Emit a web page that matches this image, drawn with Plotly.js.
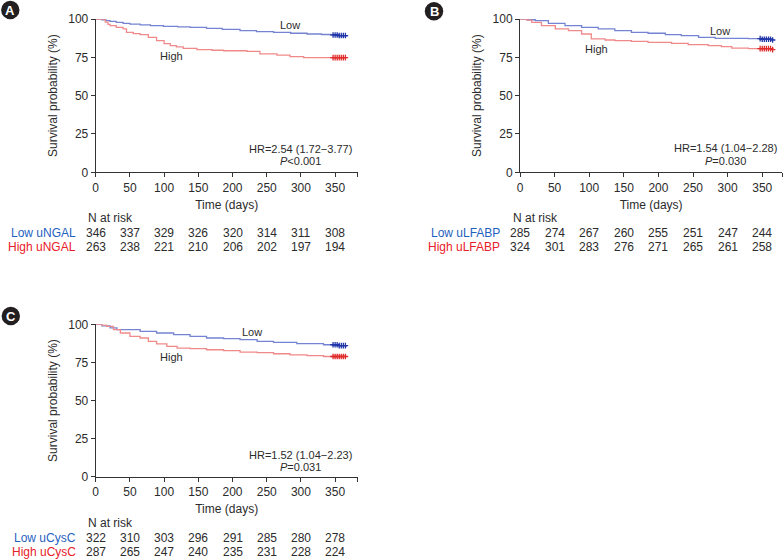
<!DOCTYPE html>
<html><head><meta charset="utf-8">
<script src="https://cdn.plot.ly/plotly-3.0.1.min.js"></script>
<style>html,body{margin:0;padding:0;background:#fff;}#chart{width:784px;height:559px;}</style>
</head><body><div id="chart"></div>
<script>
// ---- data ----
const riskTimes = [0, 50, 100, 150, 200, 250, 300, 350];
const xTicks = [0, 50, 100, 150, 200, 250, 300, 350];
const yTicks = [0, 25, 50, 75, 100];

// Panel A (uNGAL)
const aLowT  = [0, 9, 15, 21, 30, 40, 50, 65, 80, 99, 120, 138, 162, 185, 211, 235, 260, 285, 309, 330, 343, 355, 367];
const aLowS  = [100, 99.5, 99, 98.5, 97.8, 97.2, 96.7, 96.2, 95.7, 95.2, 94.9, 94.6, 93.9, 93.2, 92.4, 91.8, 91.3, 90.7, 90.2, 89.9, 89.6, 89.2, 88.5];
const aHighT = [0, 14, 18, 21, 30, 40, 45, 55, 65, 77, 89, 100, 109, 118, 128, 148, 170, 187, 221, 240, 265, 284, 304, 367];
const aHighS = [100, 98, 96.5, 95.7, 94.5, 93.5, 91.3, 90.5, 89.8, 88, 85.9, 84, 82.6, 81.8, 80.9, 80, 79.6, 79.3, 78.9, 77.2, 76.5, 75.4, 74.8, 74.5];
const aLowRisk  = [346, 337, 329, 326, 320, 314, 311, 308];
const aHighRisk = [263, 238, 221, 210, 206, 202, 197, 194];

// Panel B (uLFABP)
const bLowT  = [0, 10, 22, 41, 65, 89, 113, 137, 161, 185, 210, 233, 258, 282, 330, 350, 364];
const bLowS  = [100, 99.5, 98.9, 97.2, 95.7, 94.6, 93.5, 92.4, 91.3, 90.7, 89.8, 89.1, 88, 87.4, 87.2, 86.8, 86.3];
const bHighT = [0, 10, 17, 31, 51, 70, 89, 103, 123, 137, 161, 185, 219, 243, 272, 291, 306, 330, 365];
const bHighS = [100, 99.3, 97.8, 95.7, 93.5, 92.4, 90.2, 87, 86.3, 85.9, 85.4, 84.8, 84.1, 83.3, 82.6, 82, 81, 80.7, 80];
const bLowRisk  = [285, 274, 267, 260, 255, 251, 247, 244];
const bHighRisk = [324, 301, 283, 276, 271, 265, 261, 258];

// Panel C (uCysC)
const cLowT  = [0, 9, 21, 31, 65, 89, 114, 138, 162, 187, 211, 236, 260, 294, 333, 355, 366];
const cLowS  = [100, 99, 97.6, 96.5, 95.4, 94.3, 93.2, 92.1, 91, 90.6, 89.9, 88.8, 88.2, 87.3, 86.6, 86, 85];
const cHighT = [0, 9, 16, 26, 36, 50, 65, 77, 89, 104, 119, 138, 162, 187, 211, 236, 260, 284, 309, 333, 366];
const cHighS = [100, 99.5, 98.7, 96.5, 94.3, 92.1, 91, 88.8, 87.1, 85.5, 84.4, 84, 83.3, 82.7, 81.8, 81.4, 80.7, 80, 79.4, 78.9, 78.5];
const cLowRisk  = [322, 310, 303, 296, 291, 285, 280, 278];
const cHighRisk = [287, 265, 247, 240, 235, 231, 228, 224];

const censorTimes = [347, 350, 353, 356, 359, 362, 365];

const panelLetters = ['A', 'B', 'C'];
const groupNames = ['uNGAL', 'uLFABP', 'uCysC'];
const hrTexts = ['HR=2.54 (1.72\u22123.77)', 'HR=1.54 (1.04\u22122.28)', 'HR=1.52 (1.04\u22122.23)'];
const pTexts = ['<i>P</i>&lt;0.001', '<i>P</i>=0.030', '<i>P</i>=0.031'];

// ---- styling ----
const W = 784, H = 559;
const FONT = 'Liberation Sans, Arial, Helvetica, sans-serif';
const TXT = '#2b2b2b';
const lowLine = '#7484d2', highLine = '#f08a8a';
const lowMark = '#1f35a8', highMark = '#e02a2a';
const lowLab = '#1f5fbf', highLab = '#e8202a';

const px = v => v / W;
const py = v => 1 - v / H;

// panel geometry in pixels
const panels = [
  {x0: 95.7, x1: 357.7, xmax: 383, yTop: 19, yBot: 172.3, ax: '', low: [aLowT, aLowS], high: [aHighT, aHighS], lr: aLowRisk, hr: aHighRisk,
   nY: 217.7, lowY: 232.7, highY: 246.7, labR: 77.7, nX: 85.7,
   circ: [10.3, 10], lowTxt: [290, 25], highTxt: [171, 55.7], hrX: 300, hrY: [149, 161.5]},
  {x0: 520, x1: 782.3, xmax: 379, yTop: 19, yBot: 172.3, ax: '2', low: [bLowT, bLowS], high: [bHighT, bHighS], lr: bLowRisk, hr: bHighRisk,
   nY: 217.7, lowY: 232.7, highY: 246.7, labR: 502, nX: 510.7,
   circ: [434, 11.3], lowTxt: [720, 31.3], highTxt: [596.7, 49.3], hrX: 725.5, hrY: [148, 161]},
  {x0: 95.7, x1: 357.7, xmax: 383, yTop: 324.3, yBot: 476.8, ax: '3', low: [cLowT, cLowS], high: [cHighT, cHighS], lr: cLowRisk, hr: cHighRisk,
   nY: 522.7, lowY: 538.3, highY: 551.7, labR: 77.7, nX: 85.7,
   circ: [10.8, 316], lowTxt: [251.7, 331.7], highTxt: [171.7, 357.3], hrX: 300, hrY: [455, 467]}
];

function stepAt(t, s, x) {
  let v = s[0];
  for (let i = 0; i < t.length; i++) { if (t[i] <= x) v = s[i]; }
  return v;
}

const data = [], annotations = [], shapes = [];
const layout = {
  width: W, height: H, margin: {l: 0, r: 0, t: 0, b: 0},
  paper_bgcolor: '#fff', plot_bgcolor: 'rgba(0,0,0,0)',
  showlegend: false, font: {family: FONT, size: 12, color: TXT}
};

panels.forEach((p, k) => {
  const xa = 'x' + p.ax, ya = 'y' + p.ax;
  [[p.low, lowLine, lowMark, 'Low'], [p.high, highLine, highMark, 'High']].forEach(([c, lc, mc, nm]) => {
    data.push({type: 'scatter', mode: 'lines', x: c[0], y: c[1], xaxis: xa, yaxis: ya,
      line: {shape: 'hv', color: lc, width: 1.3}, name: nm + ' ' + groupNames[k], hoverinfo: 'x+y'});
    data.push({type: 'scatter', mode: 'markers', x: censorTimes, y: censorTimes.map(t => stepAt(c[0], c[1], t)),
      xaxis: xa, yaxis: ya, marker: {symbol: 'cross-thin-open', size: 4, line: {color: mc, width: 1.3}, color: mc},
      name: nm + ' censored', hoverinfo: 'skip'});
  });
  const xk = 'xaxis' + p.ax, yk = 'yaxis' + p.ax;
  layout[xk] = {
    domain: [px(p.x0), px(p.x1)], range: [0, p.xmax], anchor: ya,
    tickvals: xTicks.concat([p.xmax]), ticktext: xTicks.map(String).concat(['']),
    ticks: 'outside', ticklen: 4, tickcolor: '#333', tickwidth: 1,
    showline: true, linecolor: '#333', linewidth: 1, showgrid: false, zeroline: false,
    tickfont: {family: FONT, size: 12, color: TXT},
    title: {text: 'Time (days)', font: {family: FONT, size: 12, color: TXT}, standoff: 6}
  };
  layout[yk] = {
    domain: [py(p.yBot), py(p.yTop)], range: [0, 100], anchor: xa,
    tickvals: yTicks, ticks: 'outside', ticklen: 4, tickcolor: '#333', tickwidth: 1,
    showline: true, linecolor: '#333', linewidth: 1, showgrid: false, zeroline: false,
    tickfont: {family: FONT, size: 12, color: TXT},
    title: {text: 'Survival probability (%)', font: {family: FONT, size: 12, color: TXT}, standoff: 8}
  };
  // risk table
  annotations.push({text: 'N at risk', xref: 'paper', yref: 'paper', x: px(p.nX), y: py(p.nY), xanchor: 'left', yanchor: 'middle', showarrow: false, font: {size: 12, color: TXT}});
  annotations.push({text: 'Low ' + groupNames[k], xref: 'paper', yref: 'paper', x: px(p.labR), y: py(p.lowY), xanchor: 'right', yanchor: 'middle', showarrow: false, font: {size: 12, color: lowLab}});
  annotations.push({text: 'High ' + groupNames[k], xref: 'paper', yref: 'paper', x: px(p.labR), y: py(p.highY), xanchor: 'right', yanchor: 'middle', showarrow: false, font: {size: 12, color: highLab}});
  riskTimes.forEach((t, i) => {
    annotations.push({text: String(p.lr[i]), xref: xa, yref: 'paper', x: t, y: py(p.lowY), xanchor: 'center', yanchor: 'middle', showarrow: false, font: {size: 12, color: TXT}});
    annotations.push({text: String(p.hr[i]), xref: xa, yref: 'paper', x: t, y: py(p.highY), xanchor: 'center', yanchor: 'middle', showarrow: false, font: {size: 12, color: TXT}});
  });
  // curve labels
  annotations.push({text: 'Low', xref: 'paper', yref: 'paper', x: px(p.lowTxt[0]), y: py(p.lowTxt[1]), xanchor: 'center', yanchor: 'middle', showarrow: false, font: {size: 11, color: TXT}});
  annotations.push({text: 'High', xref: 'paper', yref: 'paper', x: px(p.highTxt[0]), y: py(p.highTxt[1]), xanchor: 'center', yanchor: 'middle', showarrow: false, font: {size: 11, color: TXT}});
  // HR and P
  annotations.push({text: hrTexts[k], xref: 'paper', yref: 'paper', x: px(p.hrX), y: py(p.hrY[0]), xanchor: 'center', yanchor: 'middle', showarrow: false, font: {size: 11, color: TXT}});
  annotations.push({text: pTexts[k], xref: 'paper', yref: 'paper', x: px(p.hrX), y: py(p.hrY[1]), xanchor: 'center', yanchor: 'middle', showarrow: false, font: {size: 11, color: TXT}});
  // panel letter badge
  const r = 9.2;
  shapes.push({type: 'circle', xref: 'paper', yref: 'paper', x0: px(p.circ[0] - r), x1: px(p.circ[0] + r), y0: py(p.circ[1] + r), y1: py(p.circ[1] - r), fillcolor: '#231f20', line: {width: 0}});
  annotations.push({text: '<b>' + panelLetters[k] + '</b>', xref: 'paper', yref: 'paper', x: px(p.circ[0]), y: py(p.circ[1]), xanchor: 'center', yanchor: 'middle', showarrow: false, font: {size: 13, color: '#fff'}});
});

layout.annotations = annotations;
layout.shapes = shapes;
Plotly.newPlot('chart', data, layout, {staticPlot: true, displayModeBar: false});
</script></body></html>
